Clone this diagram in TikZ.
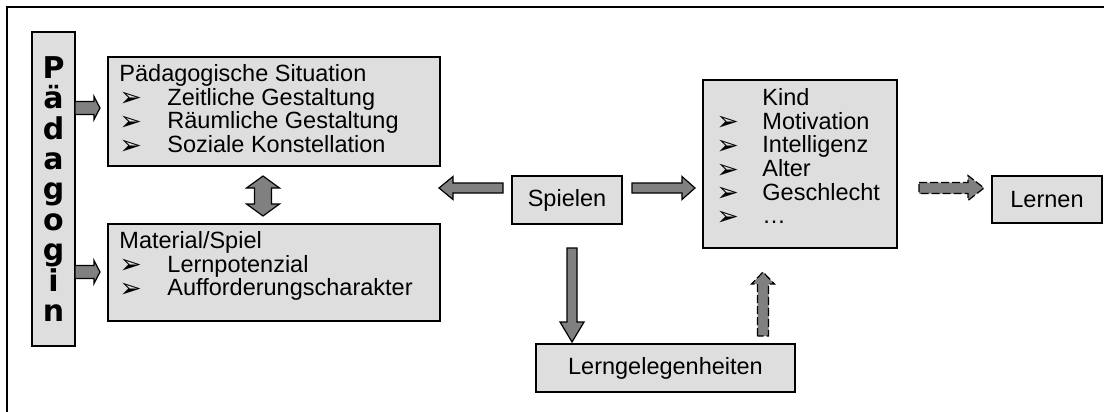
\documentclass[tikz,border=0pt]{standalone}
\usepackage{fontspec}
\setmainfont{Liberation Sans}
\newfontfamily\symfont{DejaVu Sans}
\newfontfamily\paedfont{DejaVu Sans}
\usetikzlibrary{calc}
\definecolor{boxgray}{gray}{0.87}
\definecolor{arrowgray}{gray}{0.5}
\newcommand\bul[1][48pt]{\makebox[#1][l]{\smash{\raisebox{-1.5pt}{\symfont\fontsize{27}{27}\selectfont ➢}}}}
\def\blockarrow[#1](#2)(#3)(#4:#5:#6){\draw[#1] ($(#2)!#4!90:(#3)$) -- ($(#3)!#6!(#2)!#4!90:(#3)$) -- ($(#3)!#6!(#2)!#5!90:(#3)$) -- (#3) -- ($(#3)!#6!(#2)!#5!-90:(#3)$) -- ($(#3)!#6!(#2)!#4!-90:(#3)$) -- ($(#2)!#4!-90:(#3)$) -- cycle;}
\def\dblarrow[#1](#2)(#3)(#4:#5:#6){\draw[#1] (#2) -- ($(#2)!#6!(#3)!#5!90:(#3)$) -- ($(#2)!#6!(#3)!#4!90:(#3)$) -- ($(#3)!#6!(#2)!#4!90:(#3)$) -- ($(#3)!#6!(#2)!#5!90:(#3)$) -- (#3) -- ($(#3)!#6!(#2)!#5!-90:(#3)$) -- ($(#3)!#6!(#2)!#4!-90:(#3)$) -- ($(#2)!#6!(#3)!#4!-90:(#3)$) -- ($(#2)!#6!(#3)!#5!-90:(#3)$) -- cycle;}

\begin{document}
\begin{tikzpicture}[x=1pt, y=-1pt,
  box/.style={draw, line width=1.5pt, fill=boxgray, inner sep=0pt, font=\fontsize{23.5}{23.7}\selectfont},
  txt/.style={inner sep=0pt, align=left, anchor=north west, font=\fontsize{23.5}{23.7}\selectfont},
  blk/.style={draw, line width=1.2pt, fill=arrowgray, line join=miter},
  blkdash/.style={blk, dash pattern=on 8pt off 3pt}]
  \useasboundingbox (0,0) rectangle (1104,412);

  %%%%% frame %%%%%
  \draw[line width=1.6pt] (7,412) -- (7,7) -- (1104,7);

  %%%%% boxes %%%%%
  \node[box, minimum width=43pt, minimum height=314pt, align=center,
        font=\paedfont\bfseries\fontsize{30}{30.4}\selectfont] (paed) at (53.5,189) {P\\ä\\d\\a\\g\\o\\g\\i\\n};

  \node[box, minimum width=332pt, minimum height=109pt] (sit) at (274,111.5) {};
  \node[txt] (sit-t) at ([shift={(12pt,-8pt)}]sit.north west)
    {Pädagogische Situation\\ \bul Zeitliche Gestaltung\\ \bul Räumliche Gestaltung\\ \bul Soziale Konstellation};

  \node[box, minimum width=332pt, minimum height=97pt] (mat) at (274,272.5) {};
  \node[txt] (mat-t) at ([shift={(12pt,-8pt)}]mat.north west)
    {Material/Spiel\\ \bul Lernpotenzial\\ \bul Aufforderungscharakter};

  \node[box, minimum width=110pt, minimum height=48pt] (spielen) at (567,200) {Spielen};

  \node[box, minimum width=194pt, minimum height=168pt] (kind) at (800,164) {};
  \node[txt] (kind-t) at ([shift={(14pt,-9pt)}]kind.north west)
    {\hspace*{46pt}Kind\\ \bul[46pt]Motivation\\ \bul[46pt]Intelligenz\\ \bul[46pt]Alter\\ \bul[46pt]Geschlecht\\ \bul[46pt]…};

  \node[box, minimum width=110pt, minimum height=47pt] (lernen) at (1047,199.5) {Lernen};
  \node[box, minimum width=259pt, minimum height=48pt] (lerng) at (665.5,368) {Lerngelegenheiten};

  %%%%% arrow ends %%%%%
  \coordinate (p1s) at (75,108);   \coordinate (p1e) at (100,108);
  \coordinate (p2s) at (75,272);   \coordinate (p2e) at (100,272);
  \coordinate (dbs) at (263,176);  \coordinate (dbe) at (263,216);
  \coordinate (sls) at (503,188);  \coordinate (sle) at (439,188);
  \coordinate (srs) at (632,188);  \coordinate (sre) at (695,188);
  \coordinate (sds) at (572,248);  \coordinate (sde) at (572,342);
  \coordinate (lus) at (763,336);  \coordinate (lue) at (763,272);
  \coordinate (kls) at (919,188);  \coordinate (kle) at (984,188);

  %%%%% arrows %%%%%
  \blockarrow[blk](p1s)(p1e)(6.5pt:11.5pt:6pt)
  \blockarrow[blk](p2s)(p2e)(6.5pt:11.5pt:6pt)
  \dblarrow[blk](dbs)(dbe)(8.5pt:16.5pt:12pt)
  \blockarrow[blk](sls)(sle)(5pt:11.5pt:14pt)
  \blockarrow[blk](srs)(sre)(5pt:11.5pt:13pt)
  \blockarrow[blk](sds)(sde)(5pt:12pt:20pt)
  \blockarrow[blkdash](lus)(lue)(5.5pt:11.5pt:12pt)
  \blockarrow[blkdash](kls)(kle)(5.5pt:12.5pt:16pt)
\end{tikzpicture}
\end{document}
